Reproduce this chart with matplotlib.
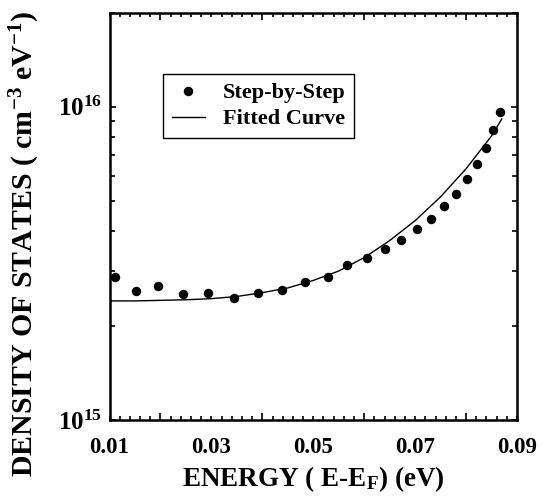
import math
import matplotlib
matplotlib.use("Agg")
import matplotlib.pyplot as plt
from matplotlib.ticker import FixedLocator, FuncFormatter, LogLocator, NullFormatter

plt.rcParams['font.family'] = ['Liberation Serif', 'DejaVu Serif']
plt.rcParams['font.weight'] = 'bold'
plt.rcParams['mathtext.fontset'] = 'custom'
plt.rcParams['mathtext.rm'] = 'Liberation Serif:bold'
plt.rcParams['mathtext.bf'] = 'Liberation Serif:bold'
plt.rcParams['mathtext.it'] = 'Liberation Serif:bold'
plt.rcParams['mathtext.default'] = 'bf'

# Step-by-step data
step_energy = [0.0110, 0.0152, 0.0196, 0.0245, 0.0293, 0.0344, 0.0392, 0.0439,
               0.0484, 0.0528, 0.0567, 0.0605, 0.0641, 0.0673, 0.0703, 0.0732,
               0.0757, 0.0781, 0.0802, 0.0821, 0.0839, 0.0852, 0.0866]
step_dos = [2.87e15, 2.59e15, 2.67e15, 2.52e15, 2.54e15, 2.46e15, 2.55e15, 2.61e15,
            2.75e15, 2.87e15, 3.12e15, 3.29e15, 3.52e15, 3.76e15, 4.06e15, 4.39e15,
            4.83e15, 5.28e15, 5.90e15, 6.57e15, 7.41e15, 8.45e15, 9.64e15]

# Fitted curve
fit_energy = [0.0100, 0.0150, 0.0200, 0.0250, 0.0300, 0.0350, 0.0400, 0.0450,
              0.0500, 0.0550, 0.0600, 0.0650, 0.0700, 0.0750, 0.0800, 0.0850, 0.0870]
fit_dos = [2.40e15, 2.40e15, 2.41e15, 2.42e15, 2.44e15, 2.48e15, 2.55e15, 2.64e15,
           2.79e15, 2.99e15, 3.30e15, 3.74e15, 4.33e15, 5.16e15, 6.34e15, 8.07e15, 9.14e15]

x_labels = ['0.01', '0.03', '0.05', '0.07', '0.09']
x_major = [0.01, 0.02, 0.03, 0.04, 0.05, 0.06, 0.07, 0.08, 0.09]

fig = plt.figure(figsize=(5.48, 4.97), dpi=100)
ax = fig.add_axes([109.5/548, 77/497, 407.5/548, 407.5/497])

ax.plot(step_energy, step_dos, 'o', color='black', markersize=5.8, label='Step-by-Step', zorder=3)
ax.plot(fit_energy, fit_dos, '-', color='black', linewidth=1.0, label='Fitted Curve')

ax.set_yscale('log')
ax.set_xlim(0.01, 0.09)
ax.set_ylim(1e15, 2e16)

for s in ax.spines.values():
    s.set_linewidth(1.8)

# x ticks
ax.xaxis.set_major_locator(FixedLocator(x_major))
def xfmt(v, pos):
    s = '%.2f' % v
    return s if s in x_labels else ''
ax.xaxis.set_major_formatter(FuncFormatter(xfmt))
minor_x = [round(0.01 + 0.002 * i, 4) for i in range(41)]
ax.xaxis.set_minor_locator(FixedLocator(minor_x))
ax.tick_params(axis='x', which='both', direction='in', top=True, bottom=True,
               labelsize=16.5, pad=12, width=1.2)
ax.tick_params(axis='x', which='minor', length=2.6)
ax.tick_params(axis='x', which='major', length=2.6)
ticks = ax.xaxis.get_major_ticks()
for t, loc in zip(ticks, x_major):
    if '%.2f' % loc not in x_labels:
        t.tick1line.set_markersize(5.2)
        t.tick2line.set_markersize(5.2)

# y ticks
ax.yaxis.set_major_locator(LogLocator(base=10, numticks=10))
ax.yaxis.set_minor_locator(LogLocator(base=10, subs=range(2, 10), numticks=20))
ax.yaxis.set_minor_formatter(NullFormatter())
ax.yaxis.set_major_formatter(FuncFormatter(lambda v, p: r'$\mathbf{10^{%d}}$' % round(math.log10(v))))
ax.tick_params(axis='y', which='both', direction='in', left=True, right=True,
               labelsize=18, pad=5.5, width=1.2)
ax.tick_params(axis='y', which='major', length=4.5)
ax.tick_params(axis='y', which='minor', length=3.8)

for lab in ax.get_xticklabels() + ax.get_yticklabels():
    lab.set_fontweight('bold')

ax.set_xlabel(r'ENERGY ( E-E$_{\mathbf{F}}$) (eV)', fontsize=19.5, fontweight='bold', labelpad=5)
ax.set_ylabel(r'DENSITY OF STATES ( cm$^{\mathbf{-3}}$ eV$^{\mathbf{-1}}$)', fontsize=21.5,
              fontweight='bold')
ax.yaxis.set_label_coords(-0.165, 0.432)

leg = ax.legend(loc='upper left', bbox_to_anchor=(0.1305, 0.8493), borderaxespad=0,
                fancybox=False, edgecolor='black', framealpha=1,
                prop={'family': 'Liberation Serif', 'weight': 'bold', 'size': 16},
                handlelength=1.5, handletextpad=0.8, borderpad=0.4, labelspacing=0.25)
leg.get_frame().set_linewidth(1.0)

fig.savefig('out.png', dpi=100)
